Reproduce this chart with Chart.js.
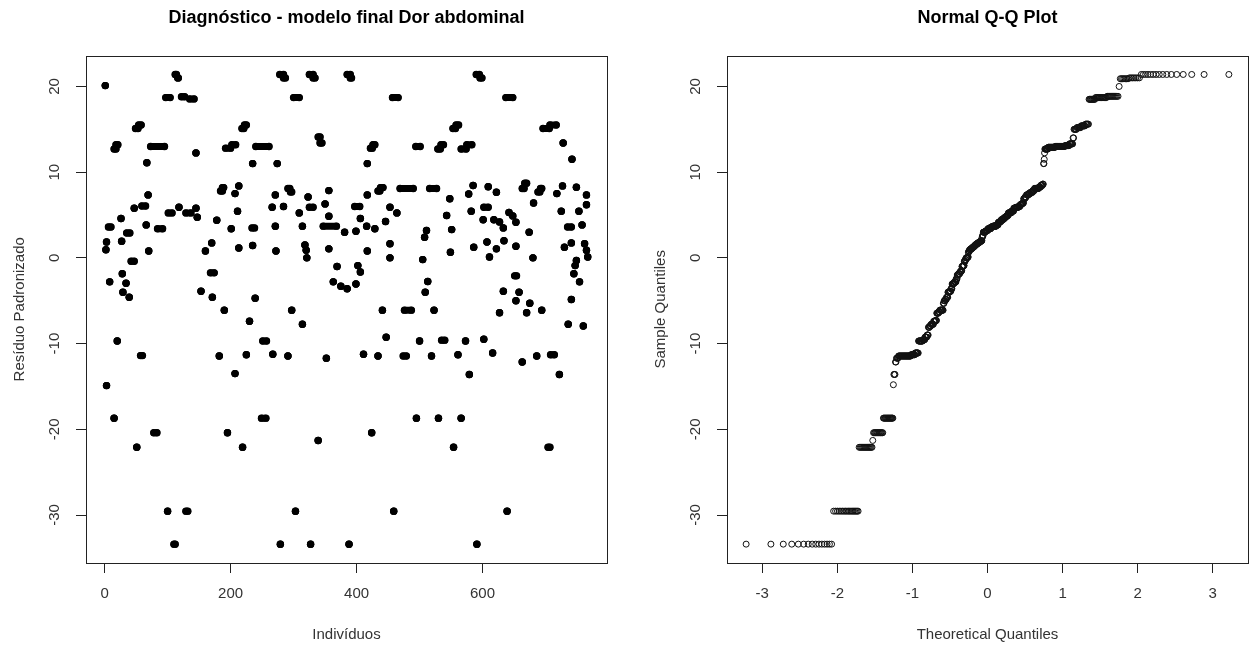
<!DOCTYPE html>
<html>
<head>
<meta charset="utf-8">
<script src="https://cdn.jsdelivr.net/npm/chart.js@4.4.1/dist/chart.umd.min.js"></script>
<style>
  html, body { margin: 0; padding: 0; background: #fff; }
  #wrap { position: relative; width: 1256px; height: 646px; }
  canvas { position: absolute; top: 0; }
  #residChart { left: 0; }
  #qqChart { left: 641px; }
</style>
</head>
<body>
<div id="wrap">
  <canvas id="residChart" width="615" height="646"></canvas>
  <canvas id="qqChart" width="615" height="646"></canvas>
</div>
<script>
"use strict";

// runs of consecutive individuals with the same residual: [first index, last index, residual]
const residRuns = [
  [1,1,20.1],[2,2,0.95],[3,3,1.85],[3,3,-14.9],[6,10,3.6],[8,8,-2.8],[15,15,-18.7],
  [15,18,12.7],[18,21,13.2],[20,20,-9.7],[26,26,4.6],[27,27,1.95],[28,28,-1.85],
  [29,29,-4.0],[34,34,-2.95],[35,40,2.9],[39,39,-4.6],[42,47,-0.4],[47,47,5.8],
  [49,53,15.1],[54,58,15.5],[51,51,-22.1],[57,60,-11.4],[59,65,6.05],[66,66,3.85],
  [67,67,11.1],[69,69,7.35],[70,70,0.8],[73,95,13.0],[78,83,-20.4],[84,92,3.4],
  [97,104,18.7],[100,100,-29.55],[101,107,5.25],[110,112,-33.4],[112,114,21.4],
  [116,117,21.0],[118,118,5.9],[122,127,18.8],[129,132,-29.55],[129,137,5.25],
  [135,142,18.55],[145,145,12.25],[145,145,5.8],[147,147,4.75],[153,153,-3.9],
  [160,160,0.8],[168,174,-1.75],[170,170,1.75],[171,171,-4.6],[178,178,4.4],
  [182,182,-11.45],[184,187,7.8],[187,189,8.2],[190,190,-6.1],[192,200,12.8],
  [195,195,-20.4],[201,201,3.4],[202,208,13.2],[207,207,7.5],[207,207,-13.5],
  [211,211,5.45],[213,213,8.4],[213,213,1.15],[218,221,15.1],[222,225,15.5],
  [219,219,-22.1],[225,225,-11.3],[230,230,-7.4],[234,238,3.5],[235,235,11.0],
  [235,235,1.45],[239,239,-4.7],[240,261,13.0],[249,256,-18.7],[251,257,-9.7],
  [266,266,5.9],[267,267,-11.25],[271,271,7.35],[271,271,3.7],[272,272,0.8],
  [274,274,11.0],[278,284,21.4],[284,287,21.0],[279,279,-33.4],[284,284,6.0],
  [291,294,8.1],[295,297,7.7],[291,291,-11.45],[297,297,-6.1],[300,309,18.7],
  [303,303,-29.55],[309,309,5.25],[314,314,3.7],[314,314,-7.75],[318,318,1.5],
  [320,320,0.9],[321,321,0.0],[323,323,7.1],[325,331,5.9],[325,331,21.4],
  [331,334,21.0],[327,327,-33.4],[339,342,14.1],[342,345,13.4],[339,339,-21.3],
  [347,368,3.7],[350,350,6.3],[352,352,-11.7],[356,356,7.85],[356,356,4.85],
  [356,356,1.05],[363,363,-2.8],[369,369,-1.0],[375,375,-3.3],[381,381,3.0],
  [385,385,-3.6],[385,390,21.4],[390,392,21.0],[388,388,-33.4],[397,405,6.0],
  [399,399,3.1],[399,399,-3.05],[402,402,-0.9],[406,406,4.6],[406,406,-1.65],
  [411,411,-11.25],[416,416,3.7],[417,417,7.35],[417,417,11.0],[417,417,0.8],
  [422,425,12.8],[426,429,13.2],[424,424,-20.4],[429,429,3.4],[434,437,7.8],
  [438,442,8.2],[434,434,-11.45],[441,441,-6.1],[446,446,4.25],[447,447,-9.25],
  [453,453,5.9],[453,453,1.65],[453,453,0.0],[457,466,18.7],[459,459,-29.55],
  [464,464,5.25],[469,490,8.1],[474,479,-11.45],[476,487,-6.1],[494,501,13.0],
  [495,495,-18.7],[500,500,-9.7],[505,505,-0.2],[508,508,2.4],[509,509,-4.0],
  [511,511,3.2],[513,513,-2.75],[516,527,8.1],[519,519,-11.45],[523,523,-6.1],
  [530,530,-18.7],[535,540,-9.6],[529,533,12.7],[534,538,13.2],
  [543,543,4.95],[548,548,6.9],[549,549,0.65],[551,551,3.3],[553,557,15.1],
  [558,562,15.5],[554,554,-22.1],[561,561,-11.3],[566,566,-18.7],[566,574,12.7],
  [575,583,13.2],[573,573,-9.7],[578,578,7.45],[579,579,-13.6],[582,582,5.45],
  [585,585,8.45],[586,586,1.25],[590,595,21.4],[596,599,21.0],[591,591,-33.4],
  [601,601,4.45],[602,602,-9.5],[602,609,5.9],[607,607,1.85],[609,609,8.3],
  [611,611,0.1],[616,616,-11.1],[618,618,4.45],[622,622,7.65],[622,622,1.05],
  [627,627,4.2],[627,627,-6.4],[633,633,3.5],[633,633,-3.9],[634,634,2.0],
  [637,648,18.7],[639,639,-29.55],[642,642,5.3],[648,648,4.9],[651,654,-2.1],
  [653,653,4.15],[653,653,1.35],[653,653,-5.0],[658,658,-4.0],[663,663,-12.15],
  [663,666,8.1],[667,670,8.7],[670,670,-6.4],[674,674,3.0],[675,675,-5.3],
  [680,680,0.0],[681,681,6.4],[686,686,-11.45],[688,691,7.7],[692,694,8.1],
  [694,694,-6.1],[696,706,15.1],[707,717,15.5],[704,707,-22.1],[708,714,-11.3],
  [718,718,7.5],[722,722,-13.6],[725,725,5.45],[727,727,8.4],[728,728,13.4],
  [730,730,1.25],[735,741,3.6],[736,736,-7.75],[741,741,1.75],[741,741,-4.85],
  [742,742,11.5],[745,745,-1.85],[747,747,-0.9],[749,749,8.25],[749,749,-0.3],
  [753,753,5.45],[754,754,-2.8],[758,758,3.85],[760,760,-7.95],[762,762,1.65],
  [765,765,7.35],[765,765,6.2],[765,765,0.9],[767,767,0.1]
];

// sorted sample quantiles: [residual, how many observations]
const qqSample = [
  [-33.4,15],[-29.55,18],[-22.1,15],[-21.3,1],[-20.4,14],[-18.7,17],[-14.8,1],
  [-13.6,3],[-12.15,2],[-11.7,4],[-11.45,28],[-11.3,10],[-11.1,9],
  [-9.7,12],[-9.55,6],[-9.25,6],[-9.0,4],
  [-8.1,4],[-7.95,4],[-7.75,8],[-7.4,6],[-7.3,4],
  [-6.45,6],[-6.3,4],[-6.1,12],[-5.3,3],[-5.0,4],[-4.85,4],
  [-4.6,5],[-4.0,6],[-3.9,5],[-3.6,4],[-3.05,5],[-2.95,4],[-2.8,6],[-2.45,4],[-2.0,5],[-1.85,5],
  [-1.65,4],[-1.5,4],[-1.0,5],[-0.9,4],[-0.4,4],[-0.2,3],[0.0,6],[0.1,3],[0.65,2],[0.8,3],
  [0.95,4],[1.05,5],[1.15,3],[1.25,5],[1.35,3],[1.45,4],[1.55,4],[1.65,5],[1.75,5],
  [1.85,5],[1.95,4],[2.0,3],[2.4,2],[2.6,3],
  [3.0,8],[3.1,5],[3.2,6],[3.4,12],[3.6,8],[3.7,14],[3.85,8],[4.15,6],
  [4.25,6],[4.45,8],[4.6,6],[4.75,5],[4.85,4],[4.95,5],[5.25,12],[5.45,9],[5.8,8],[5.9,10],[6.0,6],
  [6.2,5],[6.3,4],[6.4,4],[6.9,5],[7.1,5],[7.35,8],[7.5,6],[7.65,8],[7.85,6],[8.1,14],[8.25,6],[8.45,6],[8.6,3],
  [11.0,2],[11.5,1],[12.25,1],
  [12.7,10],[12.9,20],[13.0,25],[13.1,10],[13.3,8],[14.0,2],
  [15.0,6],[15.2,8],[15.4,8],[15.6,6],
  [18.5,10],[18.7,15],[18.85,12],[20.0,1],[20.9,7],[21.0,7],[21.4,16]
];

const indexTicks = [0, 200, 400, 600];
const residTicks = [-30, -20, -10, 0, 10, 20];
const quantileTicks = [-3, -2, -1, 0, 1, 2, 3];

const FONT = "'Liberation Sans', Arial, Helvetica, sans-serif";
const INK = '#222';

// inverse normal cdf (Acklam), used for the theoretical quantiles of qqnorm
function qnorm(p) {
    var a = [-39.69683028665376, 220.9460984245205, -275.9285104469687, 138.357751867269, -30.66479806614716, 2.506628277459239];
    var b = [-54.47609879822406, 161.5858368580409, -155.6989798598866, 66.80131188771972, -13.28068155288572];
    var c = [-0.007784894002430293, -0.3223964580411365, -2.400758277161838, -2.549732539343734, 4.374664141464968, 2.938163982698783];
    var d = [0.007784695709041462, 0.3224671290700398, 2.445134137142996, 3.754408661907416];
    var q, r;
    if (p < 0.02425) {
        q = Math.sqrt(-2 * Math.log(p));
        return (((((c[0]*q+c[1])*q+c[2])*q+c[3])*q+c[4])*q+c[5]) / ((((d[0]*q+d[1])*q+d[2])*q+d[3])*q+1);
    }
    if (p > 1 - 0.02425) {
        q = Math.sqrt(-2 * Math.log(1 - p));
        return -(((((c[0]*q+c[1])*q+c[2])*q+c[3])*q+c[4])*q+c[5]) / ((((d[0]*q+d[1])*q+d[2])*q+d[3])*q+1);
    }
    q = p - 0.5; r = q * q;
    return (((((a[0]*r+a[1])*r+a[2])*r+a[3])*r+a[4])*r+a[5])*q / (((((b[0]*r+b[1])*r+b[2])*r+b[3])*r+b[4])*r+1);
}

// each run becomes a thick capped segment, broken by a null point
var residPoints = [];
residRuns.forEach(function (run) {
    residPoints.push({x: run[0], y: run[2]}, {x: run[1], y: run[2]}, {x: run[1], y: null});
});

var sample = [];
qqSample.forEach(function (lv) {
    for (var k = 0; k < lv[1]; k++) sample.push(lv[0]);
});
var n = sample.length;
var qqPoints = sample.map(function (v, i) {
    return {x: qnorm((i + 0.5) / n), y: v};
});

var framePlugin = {
    id: 'frame',
    afterDraw: function (chart) {
        var a = chart.chartArea, ctx = chart.ctx;
        ctx.save();
        ctx.strokeStyle = INK;
        ctx.lineWidth = 1;
        ctx.strokeRect(Math.round(a.left) + 0.5, Math.round(a.top) + 0.5,
            Math.round(a.right - a.left), Math.round(a.bottom - a.top));
        ctx.restore();
    }
};

function axisX(min, max, ticks, label) {
    return {
        type: 'linear', min: min, max: max,
        afterBuildTicks: function (s) { s.ticks = ticks.map(function (v) { return {value: v}; }); },
        afterFit: function (s) { s.height = 83; },
        grid: { drawOnChartArea: false, drawTicks: true, tickLength: 10, tickColor: INK, tickWidth: 1 },
        border: { display: false },
        ticks: { autoSkip: false, maxRotation: 0, minRotation: 0, padding: 12, color: '#333', font: { family: FONT, size: 15 } },
        title: { display: true, text: label, color: '#333', padding: { top: 0, bottom: 2 }, font: { family: FONT, size: 15 } }
    };
}

function axisY(label) {
    return {
        type: 'linear', min: -35.6, max: 23.6,
        afterBuildTicks: function (s) { s.ticks = residTicks.map(function (v) { return {value: v}; }); },
        afterFit: function (s) { s.width = 86; },
        grid: { drawOnChartArea: false, drawTicks: true, tickLength: 10, tickColor: INK, tickWidth: 1 },
        border: { display: false },
        ticks: { autoSkip: false, minRotation: 90, maxRotation: 90, crossAlign: 'center', padding: 10, color: '#333', font: { family: FONT, size: 15 } },
        title: { display: true, text: label, color: '#333', padding: { top: 11, bottom: 0 }, font: { family: FONT, size: 15 } }
    };
}

function titleOpts(text) {
    return {
        display: true, text: text, fullSize: false, color: '#000',
        padding: { top: 7, bottom: 27 },
        font: { family: FONT, size: 18, weight: 'bold' }
    };
}

new Chart(document.getElementById('residChart'), {
    type: 'scatter',
    data: {
        datasets: [{
            data: residPoints,
            showLine: true,
            spanGaps: false,
            borderColor: '#000',
            borderWidth: 7,
            borderCapStyle: 'round',
            pointRadius: 3.7,
            pointBorderWidth: 0,
            pointBackgroundColor: '#000',
            pointHoverRadius: 3.7
        }]
    },
    options: {
        responsive: false,
        animation: false,
        events: [],
        layout: { padding: { left: 0, right: 8, top: 0, bottom: 0 } },
        scales: {
            x: axisX(-29.6, 797.6, indexTicks, 'Indivíduos'),
            y: axisY('Resíduo Padronizado')
        },
        plugins: {
            legend: { display: false },
            tooltip: { enabled: false },
            title: titleOpts('Diagnóstico - modelo final Dor abdominal')
        }
    },
    plugins: [framePlugin]
});

new Chart(document.getElementById('qqChart'), {
    type: 'scatter',
    data: {
        datasets: [{
            data: qqPoints,
            pointStyle: 'circle',
            pointRadius: 3,
            pointBorderWidth: 1,
            pointBorderColor: '#111',
            pointBackgroundColor: 'rgba(0,0,0,0)'
        }]
    },
    options: {
        responsive: false,
        animation: false,
        events: [],
        layout: { padding: { left: 0, right: 8, top: 0, bottom: 0 } },
        scales: {
            x: axisX(-3.47, 3.47, quantileTicks, 'Theoretical Quantiles'),
            y: axisY('Sample Quantiles')
        },
        plugins: {
            legend: { display: false },
            tooltip: { enabled: false },
            title: titleOpts('Normal Q-Q Plot')
        }
    },
    plugins: [framePlugin]
});
</script>
</body>
</html>
